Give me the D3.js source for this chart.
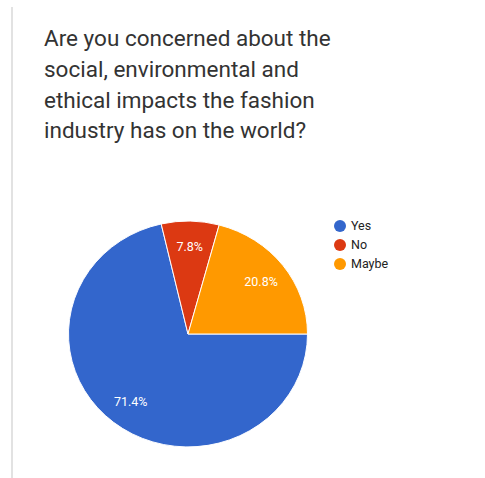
<!DOCTYPE html>
<html>
<head>
<meta charset="utf-8">
<script src="https://cdn.jsdelivr.net/npm/d3@7"></script>
<style>
  body { margin: 0; background: #fff; }
  text { font-family: Roboto, "Open Sans", sans-serif; }
</style>
</head>
<body>
<script>
// survey answers
var categories = ['Yes', 'No', 'Maybe'];
var values = [71.4, 7.8, 20.8];
var colors = ['#3366cc', '#dc3912', '#ff9900'];
var titleLines = [
  'Are you concerned about the',
  'social, environmental and',
  'ethical impacts the fashion',
  'industry has on the world?'
];

var w = 485, h = 478;
var svg = d3.select('body').append('svg')
  .attr('width', w)
  .attr('height', h);

// left grey border of the form card
svg.append('line')
  .attr('x1', 12).attr('x2', 12)
  .attr('y1', 7).attr('y2', h)
  .attr('stroke', '#e2e2e2')
  .attr('stroke-width', 2);

// title
svg.selectAll('text.title')
  .data(titleLines)
  .enter()
  .append('text')
  .attr('class', 'title')
  .attr('x', 44)
  .attr('y', function(d, i) { return 46 + i * 30.8; })
  .attr('font-size', '22.5px')
  .attr('fill', '#333')
  .text(function(d) { return d; });

// pie
var cx = 188, cy = 334, r = 119.5, sy = 0.945;
var data = categories.map(function(c, i) { return { name: c, value: values[i] }; });

var pie = d3.pie()
  .sort(null)
  .value(function(d) { return d.value; })
  .startAngle(Math.PI / 2)
  .endAngle(Math.PI / 2 + 2 * Math.PI);

var arcs = pie(data);
var arc = d3.arc().innerRadius(0).outerRadius(r);
var labelArc = d3.arc().innerRadius(r * 0.77).outerRadius(r * 0.77);

var g = svg.append('g')
  .attr('transform', 'translate(' + cx + ',' + cy + ') scale(1,' + sy + ')');

g.selectAll('path')
  .data(arcs)
  .enter()
  .append('path')
  .attr('d', arc)
  .attr('fill', function(d, i) { return colors[i]; })
  .attr('stroke', '#fff')
  .attr('stroke-width', 1);

svg.selectAll('text.lbl')
  .data(arcs)
  .enter()
  .append('text')
  .attr('class', 'lbl')
  .attr('x', function(d) { return cx + labelArc.centroid(d)[0]; })
  .attr('y', function(d) { return cy + labelArc.centroid(d)[1] * sy; })
  .attr('dy', '0.35em')
  .attr('text-anchor', 'middle')
  .attr('font-size', '12.5px')
  .attr('fill', '#fff')
  .text(function(d) { return d.data.value.toFixed(1) + '%'; });

// legend
var legend = svg.selectAll('g.legend')
  .data(categories)
  .enter()
  .append('g')
  .attr('class', 'legend')
  .attr('transform', function(d, i) { return 'translate(340,' + (226 + i * 19) + ')'; });

legend.append('circle')
  .attr('r', 6)
  .attr('fill', function(d, i) { return colors[i]; });

legend.append('text')
  .attr('x', 11)
  .attr('dy', '0.35em')
  .attr('font-size', '12.5px')
  .attr('fill', '#222')
  .text(function(d) { return d; });
</script>
</body>
</html>
